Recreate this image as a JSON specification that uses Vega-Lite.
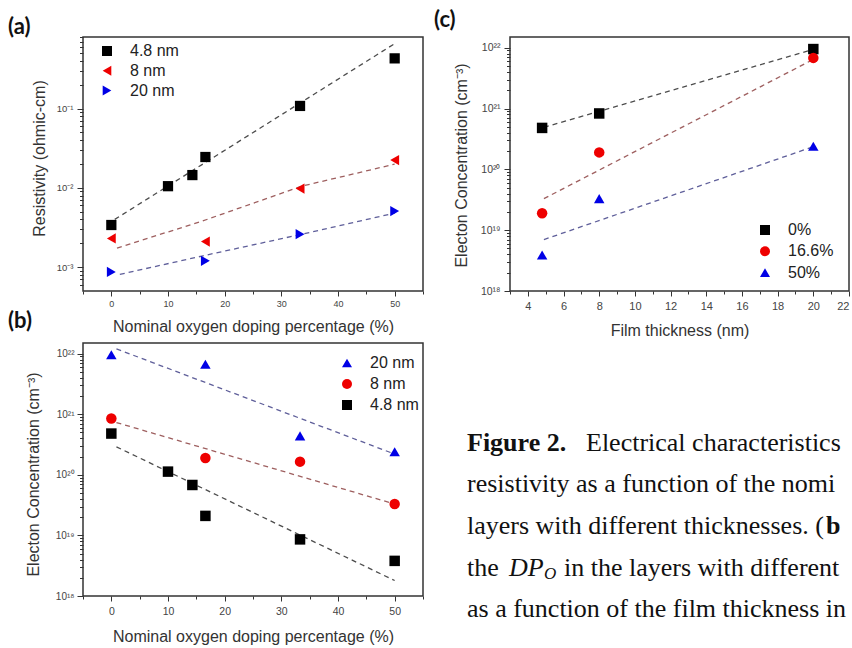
{
  "$schema": "https://vega.github.io/schema/vega-lite/v6.json",
  "padding": {"left": 7, "top": 8, "right": 0, "bottom": 0},
  "bounds": "flush",
  "columns": 2,
  "spacing": {"row": 52, "column": 87},
  "resolve": {
    "scale": {"x": "independent", "y": "independent", "color": "independent", "shape": "independent", "stroke": "independent"}
  },
  "datasets": {
    "a_pts": [
      {"sa": "4.8 nm", "x": 0, "y": 0.0034}, {"sa": "4.8 nm", "x": 10, "y": 0.0105}, {"sa": "4.8 nm", "x": 14.3, "y": 0.0145},
      {"sa": "4.8 nm", "x": 16.6, "y": 0.0245}, {"sa": "4.8 nm", "x": 33.3, "y": 0.108}, {"sa": "4.8 nm", "x": 50, "y": 0.43},
      {"sa": "8 nm", "x": 0, "y": 0.0023}, {"sa": "8 nm", "x": 16.6, "y": 0.0021}, {"sa": "8 nm", "x": 33.3, "y": 0.0098}, {"sa": "8 nm", "x": 50, "y": 0.0224},
      {"sa": "20 nm", "x": 0, "y": 0.00087}, {"sa": "20 nm", "x": 16.6, "y": 0.0012}, {"sa": "20 nm", "x": 33.3, "y": 0.0026}, {"sa": "20 nm", "x": 50, "y": 0.0051}
    ],
    "a_fit": [
      {"fa": "4.8 nm", "x": 0.6, "y": 0.004}, {"fa": "4.8 nm", "x": 50, "y": 0.66},
      {"fa": "8 nm", "x": 1, "y": 0.00174}, {"fa": "8 nm", "x": 16, "y": 0.0038}, {"fa": "8 nm", "x": 33.6, "y": 0.0105}, {"fa": "8 nm", "x": 50, "y": 0.0199},
      {"fa": "20 nm", "x": 1.5, "y": 0.00081}, {"fa": "20 nm", "x": 16, "y": 0.00138}, {"fa": "20 nm", "x": 33.6, "y": 0.0026}, {"fa": "20 nm", "x": 50, "y": 0.0048}
    ],
    "b_pts": [
      {"sb": "20 nm", "x": 0, "y": 9.6e21}, {"sb": "20 nm", "x": 16.6, "y": 6.7e21}, {"sb": "20 nm", "x": 33.3, "y": 4.4e20}, {"sb": "20 nm", "x": 50, "y": 2.4e20},
      {"sb": "8 nm", "x": 0, "y": 8.5e20}, {"sb": "8 nm", "x": 16.6, "y": 1.9e20}, {"sb": "8 nm", "x": 33.3, "y": 1.65e20}, {"sb": "8 nm", "x": 50, "y": 3.3e19},
      {"sb": "4.8 nm", "x": 0, "y": 4.8e20}, {"sb": "4.8 nm", "x": 10, "y": 1.13e20}, {"sb": "4.8 nm", "x": 14.3, "y": 6.8e19},
      {"sb": "4.8 nm", "x": 16.6, "y": 2.1e19}, {"sb": "4.8 nm", "x": 33.3, "y": 8.6e18}, {"sb": "4.8 nm", "x": 50, "y": 3.8e18}
    ],
    "b_fit": [
      {"fb": "20 nm", "x": 0.9, "y": 1.2e22}, {"fb": "20 nm", "x": 50, "y": 2.2e20},
      {"fb": "8 nm", "x": 0.9, "y": 7.3e20}, {"fb": "8 nm", "x": 50, "y": 3.3e19},
      {"fb": "4.8 nm", "x": 0.9, "y": 2.9e20}, {"fb": "4.8 nm", "x": 50, "y": 1.8e18}
    ],
    "c_pts": [
      {"sc": "0%", "x": 4.8, "y": 4.8e20}, {"sc": "0%", "x": 8, "y": 8.3e20}, {"sc": "0%", "x": 20, "y": 9.5e21},
      {"sc": "16.6%", "x": 4.8, "y": 1.9e19}, {"sc": "16.6%", "x": 8, "y": 1.9e20}, {"sc": "16.6%", "x": 20, "y": 6.8e21},
      {"sc": "50%", "x": 4.8, "y": 3.9e18}, {"sc": "50%", "x": 8, "y": 3.3e19}, {"sc": "50%", "x": 20, "y": 2.4e20}
    ],
    "c_fit": [
      {"fc": "0%", "x": 4.9, "y": 4.9e20}, {"fc": "0%", "x": 19.9, "y": 9.2e21},
      {"fc": "16.6%", "x": 4.9, "y": 3.3e19}, {"fc": "16.6%", "x": 19.9, "y": 6.2e21},
      {"fc": "50%", "x": 4.9, "y": 7e18}, {"fc": "50%", "x": 19.9, "y": 2.3e20}
    ],
    "cap": [
      {"line": 1, "part": "fig", "text": "Figure 2."},
      {"line": 1, "part": "l1", "text": "Electrical characteristics"},
      {"line": 2, "part": "n", "text": "resistivity as a function of the nomi"},
      {"line": 3, "part": "n", "text": "layers with different thicknesses. ("},
      {"line": 3, "part": "bb", "text": "b"},
      {"line": 4, "part": "n", "text": "the"},
      {"line": 4, "part": "dp", "text": "DP"},
      {"line": 4, "part": "o", "text": "O"},
      {"line": 4, "part": "l4", "text": "in the layers with different"},
      {"line": 5, "part": "n", "text": "as a function of the film thickness in"}
    ]
  },
  "config": {
    "view": {"stroke": "#333333", "strokeWidth": 1.5},
    "axis": {"grid": false, "domain": false, "labelFont": "Liberation Sans", "titleFont": "Liberation Sans", "labelColor": "#444444", "titleColor": "#333333", "tickColor": "#333333", "titleFontWeight": "normal", "titleFontSize": 16, "tickWidth": 1},
    "title": {"font": "Lato", "fontWeight": "bold", "fontSize": 22, "color": "#111111", "anchor": "start", "frame": "group", "baseline": "bottom", "offset": 0},
    "legend": {"labelFont": "Liberation Sans", "labelColor": "#222222", "labelFontSize": 16, "symbolSize": 100, "padding": 0}
  },
  "concat": [
    {
      "width": 340, "height": 254,
      "title": {"text": "(a)", "dy": 6, "dx": -75},
      "layer": [
        {
          "data": {"name": "a_fit"},
          "mark": {"type": "line", "strokeDash": [5, 4], "strokeWidth": 1.3},
          "encoding": {
            "x": {"field": "x", "type": "quantitative", "scale": {"domain": [-5, 55], "nice": false, "zero": false},
                  "axis": {"orient": "bottom", "values": [-5, 5, 15, 25, 35, 45, 55], "labels": false, "tickSize": 3, "title": null}},
            "y": {"field": "y", "type": "quantitative", "scale": {"type": "log", "domain": [0.0005, 0.8], "nice": false},
                  "axis": {"orient": "left", "values": [0.0006, 0.0007, 0.0008, 0.0009, 0.002, 0.003, 0.004, 0.005, 0.006, 0.007, 0.008, 0.009, 0.02, 0.03, 0.04, 0.05, 0.06, 0.07, 0.08, 0.09, 0.2, 0.3, 0.4, 0.5, 0.6, 0.7, 0.8], "labels": false, "tickSize": 3.5, "title": null}},
            "stroke": {"field": "fa", "type": "nominal", "scale": {"range": ["#5f5f9a", "#4d4d4d", "#9e5f5f"]}, "legend": null}
          }
        },
        {
          "data": {"name": "a_pts"},
          "mark": {"type": "point", "filled": true, "opacity": 1, "size": 105},
          "encoding": {
            "x": {"field": "x", "type": "quantitative", "scale": {"domain": [-5, 55], "nice": false, "zero": false},
                  "axis": {"orient": "bottom", "values": [0, 10, 20, 30, 40, 50], "tickSize": 5, "labelFontSize": 9, "labelPadding": 3, "title": "Nominal oxygen doping percentage (%)", "titleY": 35, "titleBaseline": "middle"}},
            "y": {"field": "y", "type": "quantitative", "scale": {"type": "log", "domain": [0.0005, 0.8], "nice": false},
                  "axis": {"orient": "left", "values": [0.001, 0.01, 0.1], "tickSize": 6, "labelFontSize": 9.5, "labelPadding": 4,
                           "labelExpr": "datum.value > 0.05 ? '10⁻¹' : datum.value > 0.005 ? '10⁻²' : '10⁻³'",
                           "title": "Resistivity (ohmic-cm)", "titleX": -44, "titleY": 121, "titleBaseline": "middle"}},
            "color": {"field": "sa", "type": "nominal", "scale": {"domain": ["4.8 nm", "8 nm", "20 nm"], "range": ["#000000", "#ee0000", "#0000e6"]},
                      "legend": {"title": null, "orient": "none", "legendX": 16, "legendY": 6, "labelOffset": 15, "rowPadding": 3.8}},
            "shape": {"field": "sa", "type": "nominal", "scale": {"domain": ["4.8 nm", "8 nm", "20 nm"], "range": ["square", "triangle-left", "triangle-right"]},
                      "legend": {"title": null, "orient": "none", "legendX": 16, "legendY": 6, "labelOffset": 15, "rowPadding": 3.8}}
          }
        }
      ],
      "resolve": {"axis": {"x": "independent", "y": "independent"}}
    },
    {
      "width": 339, "height": 254,
      "title": {"text": "(c)", "dy": -1, "dx": -76},
      "layer": [
        {
          "data": {"name": "c_fit"},
          "mark": {"type": "line", "strokeDash": [5, 4], "strokeWidth": 1.3},
          "encoding": {
            "x": {"field": "x", "type": "quantitative", "scale": {"domain": [3, 22], "nice": false, "zero": false},
                  "axis": {"orient": "bottom", "values": [3, 5, 7, 9, 11, 13, 15, 17, 19, 21], "labels": false, "tickSize": 3, "title": null}},
            "y": {"field": "y", "type": "quantitative", "scale": {"type": "log", "domain": [1e18, 1.5e22], "nice": false},
                  "axis": {"orient": "left", "values": [2e18, 3e18, 4e18, 5e18, 6e18, 7e18, 8e18, 9e18, 2e19, 3e19, 4e19, 5e19, 6e19, 7e19, 8e19, 9e19, 2e20, 3e20, 4e20, 5e20, 6e20, 7e20, 8e20, 9e20, 2e21, 3e21, 4e21, 5e21, 6e21, 7e21, 8e21, 9e21], "labels": false, "tickSize": 3.5, "title": null}},
            "stroke": {"field": "fc", "type": "nominal", "scale": {"range": ["#4d4d4d", "#9e5f5f", "#5f5f9a"]}, "legend": null}
          }
        },
        {
          "data": {"name": "c_pts"},
          "mark": {"type": "point", "filled": true, "opacity": 1, "size": 110},
          "encoding": {
            "x": {"field": "x", "type": "quantitative", "scale": {"domain": [3, 22], "nice": false, "zero": false},
                  "axis": {"orient": "bottom", "values": [4, 6, 8, 10, 12, 14, 16, 18, 20, 22], "tickSize": 5, "labelFontSize": 11, "labelPadding": 4, "title": "Film thickness (nm)", "titleY": 39, "titleBaseline": "middle"}},
            "y": {"field": "y", "type": "quantitative", "scale": {"type": "log", "domain": [1e18, 1.5e22], "nice": false},
                  "axis": {"orient": "left", "values": [1e18, 1e19, 1e20, 1e21, 1e22], "tickSize": 6, "labelFontSize": 10.5, "labelPadding": 4,
                           "labelExpr": "datum.value > 5e21 ? '10²²' : datum.value > 5e20 ? '10²¹' : datum.value > 5e19 ? '10²⁰' : datum.value > 5e18 ? '10¹⁹' : '10¹⁸'",
                           "title": "Electon Concentration (cm⁻³)", "titleX": -49, "titleY": 128, "titleBaseline": "middle"}},
            "color": {"field": "sc", "type": "nominal", "scale": {"domain": ["0%", "16.6%", "50%"], "range": ["#000000", "#ee0000", "#0000e6"]},
                      "legend": {"title": null, "orient": "none", "legendX": 247, "legendY": 185, "labelOffset": 15, "rowPadding": 5.3}},
            "shape": {"field": "sc", "type": "nominal", "scale": {"domain": ["0%", "16.6%", "50%"], "range": ["square", "circle", "triangle-up"]},
                      "legend": {"title": null, "orient": "none", "legendX": 247, "legendY": 185, "labelOffset": 15, "rowPadding": 5.3}}
          }
        }
      ],
      "resolve": {"axis": {"x": "independent", "y": "independent"}}
    },
    {
      "width": 340, "height": 253,
      "title": {"text": "(b)", "dy": -6, "dx": -75},
      "layer": [
        {
          "data": {"name": "b_fit"},
          "mark": {"type": "line", "strokeDash": [5, 4], "strokeWidth": 1.3},
          "encoding": {
            "x": {"field": "x", "type": "quantitative", "scale": {"domain": [-5, 55], "nice": false, "zero": false},
                  "axis": {"orient": "bottom", "values": [-5, 5, 15, 25, 35, 45, 55], "labels": false, "tickSize": 3, "title": null}},
            "y": {"field": "y", "type": "quantitative", "scale": {"type": "log", "domain": [1e18, 1.5e22], "nice": false},
                  "axis": {"orient": "left", "values": [2e18, 3e18, 4e18, 5e18, 6e18, 7e18, 8e18, 9e18, 2e19, 3e19, 4e19, 5e19, 6e19, 7e19, 8e19, 9e19, 2e20, 3e20, 4e20, 5e20, 6e20, 7e20, 8e20, 9e20, 2e21, 3e21, 4e21, 5e21, 6e21, 7e21, 8e21, 9e21], "labels": false, "tickSize": 3.5, "title": null}},
            "stroke": {"field": "fb", "type": "nominal", "scale": {"range": ["#5f5f9a", "#4d4d4d", "#9e5f5f"]}, "legend": null}
          }
        },
        {
          "data": {"name": "b_pts"},
          "mark": {"type": "point", "filled": true, "opacity": 1, "size": 110},
          "encoding": {
            "x": {"field": "x", "type": "quantitative", "scale": {"domain": [-5, 55], "nice": false, "zero": false},
                  "axis": {"orient": "bottom", "values": [0, 10, 20, 30, 40, 50], "tickSize": 5, "labelFontSize": 10.5, "labelPadding": 5, "title": "Nominal oxygen doping percentage (%)", "titleY": 40, "titleBaseline": "middle"}},
            "y": {"field": "y", "type": "quantitative", "scale": {"type": "log", "domain": [1e18, 1.5e22], "nice": false},
                  "axis": {"orient": "left", "values": [1e18, 1e19, 1e20, 1e21, 1e22], "tickSize": 6, "labelFontSize": 10, "labelPadding": 3,
                           "labelExpr": "datum.value > 5e21 ? '10²²' : datum.value > 5e20 ? '10²¹' : datum.value > 5e19 ? '10²⁰' : datum.value > 5e18 ? '10¹⁹' : '10¹⁸'",
                           "title": "Electon Concentration (cm⁻³)", "titleX": -50, "titleY": 131, "titleBaseline": "middle"}},
            "color": {"field": "sb", "type": "nominal", "scale": {"domain": ["20 nm", "8 nm", "4.8 nm"], "range": ["#0000e6", "#ee0000", "#000000"]},
                      "legend": {"title": null, "orient": "none", "legendX": 256, "legendY": 12, "labelOffset": 15, "rowPadding": 5}},
            "shape": {"field": "sb", "type": "nominal", "scale": {"domain": ["20 nm", "8 nm", "4.8 nm"], "range": ["triangle-up", "circle", "square"]},
                      "legend": {"title": null, "orient": "none", "legendX": 256, "legendY": 12, "labelOffset": 15, "rowPadding": 5}}
          }
        }
      ],
      "resolve": {"axis": {"x": "independent", "y": "independent"}}
    },
    {
      "width": 339, "height": 253,
      "view": {"stroke": null},
      "data": {"name": "cap"},
      "encoding": {
        "x": {"datum": 0, "type": "quantitative", "scale": {"domain": [43, 382], "nice": false, "zero": false}, "axis": null},
        "y": {"field": "line", "type": "quantitative", "scale": {"domain": [-1.394, 4.68], "reverse": true, "nice": false, "zero": false}, "axis": null},
        "text": {"field": "text"}
      },
      "layer": [
        {"transform": [{"filter": "datum.part == 'n'"}],
         "mark": {"type": "text", "align": "left", "baseline": "middle", "font": "Liberation Serif", "fontSize": 26, "color": "#111111", "limit": 386, "ellipsis": ""}},
        {"transform": [{"filter": "datum.part == 'fig'"}],
         "mark": {"type": "text", "align": "left", "baseline": "middle", "font": "Liberation Serif", "fontSize": 26, "fontWeight": "bold", "color": "#111111"}},
        {"transform": [{"filter": "datum.part == 'l1'"}],
         "mark": {"type": "text", "align": "left", "baseline": "middle", "font": "Liberation Serif", "fontSize": 26, "color": "#111111", "dx": 119, "limit": 267, "ellipsis": ""}},
        {"transform": [{"filter": "datum.part == 'bb'"}],
         "mark": {"type": "text", "align": "left", "baseline": "middle", "font": "Liberation Serif", "fontSize": 26, "fontWeight": "bold", "color": "#111111", "dx": 359}},
        {"transform": [{"filter": "datum.part == 'dp'"}],
         "mark": {"type": "text", "align": "left", "baseline": "middle", "font": "Liberation Serif", "fontSize": 26, "fontStyle": "italic", "color": "#111111", "dx": 42}},
        {"transform": [{"filter": "datum.part == 'o'"}],
         "mark": {"type": "text", "align": "left", "baseline": "middle", "font": "Liberation Serif", "fontSize": 17, "fontStyle": "italic", "color": "#111111", "dx": 77, "dy": 6}},
        {"transform": [{"filter": "datum.part == 'l4'"}],
         "mark": {"type": "text", "align": "left", "baseline": "middle", "font": "Liberation Serif", "fontSize": 26, "color": "#111111", "dx": 97, "limit": 289, "ellipsis": ""}}
      ]
    }
  ]
}
